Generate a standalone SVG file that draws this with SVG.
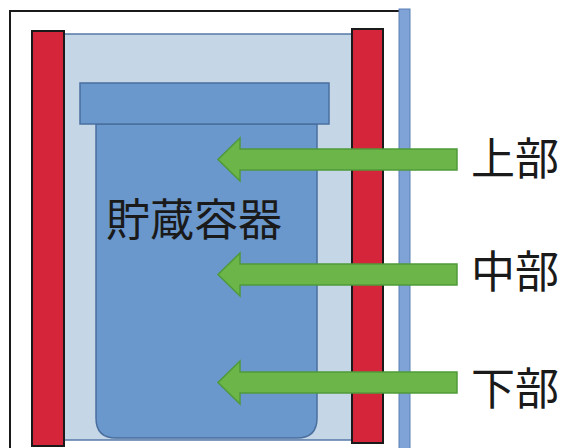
<svg xmlns="http://www.w3.org/2000/svg" width="566" height="448" viewBox="0 0 566 448">
<defs>
<style>
.heater{fill:#d5253a;stroke:#1a1a1a;stroke-width:2}
.arrow{fill:#6cb548;stroke:#4f9a3a;stroke-width:1.5}
.lbl{font-family:"Noto Sans CJK JP","Noto Sans CJK SC",sans-serif;font-size:44px;fill:#1a1a1a;dominant-baseline:central}
</style>
</defs>
<rect width="566" height="448" fill="#ffffff"/>
<g id="frame">
<polyline points="10,448 10,11 399,11" fill="none" stroke="#1a1a1a" stroke-width="2"/>
<rect x="399" y="9" width="11" height="445" fill="#7fa3d6" stroke="#5a7fb5" stroke-width="1"/>
</g>
<g id="chamber">
<rect x="64" y="34" width="288" height="406" fill="#c5d7e6" stroke="#5679a8" stroke-width="1.5"/>
</g>
<g id="container">
<path d="M96,124 H317 V418 Q317,438 297,438 H116 Q96,438 96,418 Z" fill="#6a97cc" stroke="#4a6f9f" stroke-width="1.5"/>
<rect x="80" y="83" width="249" height="41" fill="#6a97cc" stroke="#4a6f9f" stroke-width="1.5"/>
<text class="lbl" x="106" y="217" font-size="45">貯蔵容器</text>
</g>
<g id="heater-left"><rect class="heater" x="32" y="31" width="32" height="415"/></g>
<g id="heater-right"><rect class="heater" x="352" y="29" width="31" height="414"/></g>
<g id="connectors">
<path class="arrow" d="M457,149 H240 V138 L218,159.5 L240,181 V170 H457 Z"/>
<path class="arrow" d="M457,264 H240 V253 L218,274.5 L240,296 V285 H457 Z"/>
<path class="arrow" d="M457,372 H240 V361 L218,382.5 L240,404 V393 H457 Z"/>
</g>
<g id="label-upper"><text class="lbl" x="471" y="156">上部</text></g>
<g id="label-middle"><text class="lbl" x="471" y="269">中部</text></g>
<g id="label-lower"><text class="lbl" x="471" y="386">下部</text></g>
</svg>
